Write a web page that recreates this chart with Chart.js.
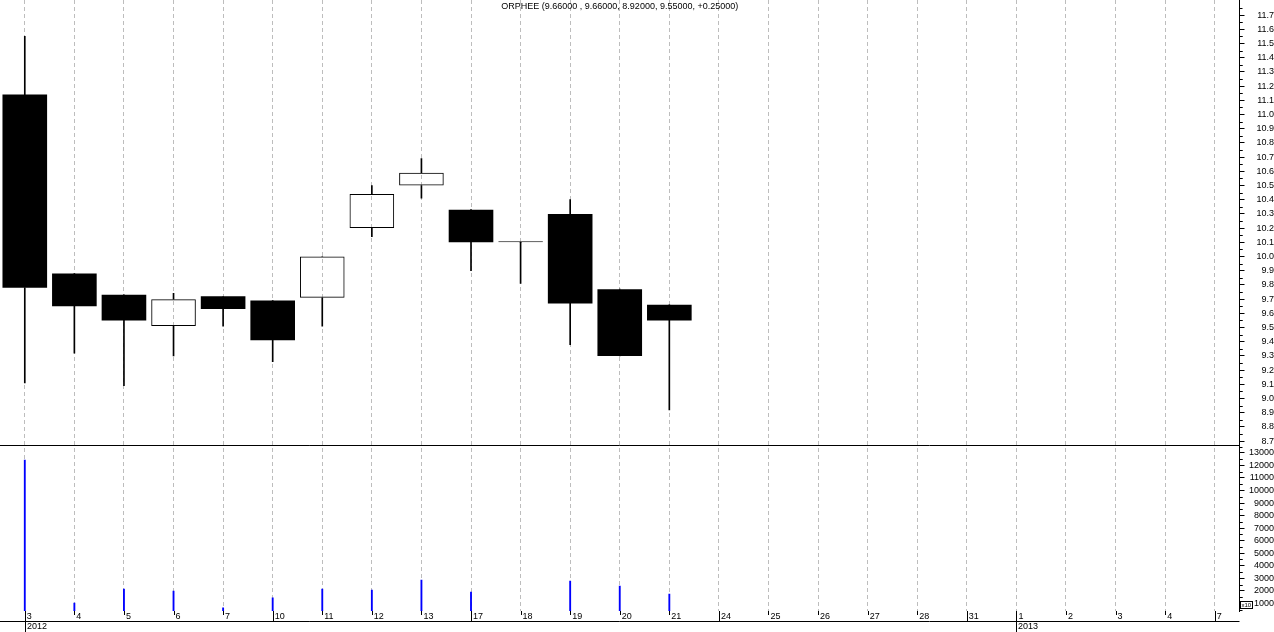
<!DOCTYPE html>
<html><head><meta charset="utf-8">
<script src="https://cdn.jsdelivr.net/npm/chart.js@4/dist/chart.umd.min.js"></script>
<style>html,body{margin:0;padding:0;background:#fff;overflow:hidden}canvas{display:block}</style>
</head><body>
<canvas id="c" width="1274" height="632"></canvas>
<script>
// ---- data ----
const ticker = 'ORPHEE';
const dates = ['2012-12-03','2012-12-04','2012-12-05','2012-12-06','2012-12-07','2012-12-10','2012-12-11','2012-12-12','2012-12-13','2012-12-17','2012-12-18','2012-12-19','2012-12-20','2012-12-21','2012-12-24','2012-12-25','2012-12-26','2012-12-27','2012-12-28','2012-12-31','2013-01-01','2013-01-02','2013-01-03','2013-01-04','2013-01-07'];
const dayLabels = ['3','4','5','6','7','10','11','12','13','17','18','19','20','21','24','25','26','27','28','31','1','2','3','4','7'];
const openP  = [11.14, 9.88, 9.73, 9.51, 9.72, 9.69, 9.71, 10.20, 10.50, 10.33, 10.10, 10.30, 9.77, 9.66];
const highP  = [11.55, 9.88, 9.73, 9.74, 9.72, 9.69, 10.00, 10.50, 10.69, 10.33, 10.10, 10.40, 9.77, 9.66];
const lowP   = [9.11, 9.32, 9.09, 9.30, 9.51, 9.26, 9.51, 10.14, 10.41, 9.90, 9.81, 9.38, 9.30, 8.92];
const closeP = [9.78, 9.65, 9.55, 9.70, 9.63, 9.41, 10.00, 10.44, 10.59, 10.10, 10.10, 9.67, 9.30, 9.55];
const volume = [12430, 1020, 2140, 1980, 650, 1440, 2140, 2060, 2860, 1900, 0, 2780, 2380, 1740];
const priceTicks = [8.7,8.8,8.9,9.0,9.1,9.2,9.3,9.4,9.5,9.6,9.7,9.8,9.9,10.0,10.1,10.2,10.3,10.4,10.5,10.6,10.7,10.8,10.9,11.0,11.1,11.2,11.3,11.4,11.5,11.6,11.7];
const volumeTicks = [1000,2000,3000,4000,5000,6000,7000,8000,9000,10000,11000,12000,13000];

// ---- derived tables for the library ----
const n = dates.length;
const idx = [...Array(n).keys()];
const has = i => i < closeP.length;
const bodies = idx.map(i => has(i) ? [openP[i], closeP[i]] : null);
const upperWicks = idx.map(i => has(i) ? [Math.max(openP[i], closeP[i]), highP[i]] : null);
const lowerWicks = idx.map(i => has(i) ? [lowP[i], Math.min(openP[i], closeP[i])] : null);
const vols = idx.map(i => has(i) && volume[i] > 0 ? volume[i] : null);
const isDown = idx.map(i => has(i) && closeP[i] < openP[i]);

Chart.defaults.font.family = "'Liberation Sans', Arial, sans-serif";
Chart.defaults.font.size = 9;
Chart.defaults.color = '#000';

const last = closeP.length - 1;
const f5 = v => v.toFixed(5);
const chg = closeP[last] - closeP[last - 1];
const titleText = ticker + ' (' + f5(openP[last]) + ' , ' + f5(highP[last]) + ', ' + f5(lowP[last]) + ', ' + f5(closeP[last]) + ', ' + (chg >= 0 ? '+' : '') + f5(chg) + ')';

const AXIS_W = 34.5;

const decor = {
  id: 'decor',
  afterDraw(chart) {
    const ctx = chart.ctx, ca = chart.chartArea;
    const xs = chart.scales.x, ys = chart.scales.y, y2 = chart.scales.y2;
    ctx.save();
    ctx.strokeStyle = '#000';
    ctx.lineWidth = 1;
    // panel separator
    const sep = Math.round(ys.bottom) + 0.5;
    ctx.beginPath(); ctx.moveTo(0, sep); ctx.lineTo(ca.right, sep); ctx.stroke();
    // date axis line
    const axY = Math.round(ca.bottom) + 10.5;
    ctx.beginPath(); ctx.moveTo(0, axY); ctx.lineTo(ca.right, axY); ctx.stroke();
    // date tick marks and year labels
    ctx.font = "9px 'Liberation Sans', Arial, sans-serif";
    ctx.fillStyle = '#000';
    ctx.textBaseline = 'top';
    ctx.textAlign = 'left';
    for (let i = 0; i < n; i++) {
      const px = Math.round(xs.getPixelForValue(i)) + 0.5;
      const d = new Date(dates[i] + 'T00:00:00Z');
      const monday = d.getUTCDay() === 1;
      const yearStart = i === 0 || dates[i].slice(0, 4) !== dates[i - 1].slice(0, 4);
      let end = ca.bottom + 4;
      if (monday || yearStart) end = ca.bottom + 10;
      if (yearStart) end = chart.height;
      ctx.beginPath(); ctx.moveTo(px, ca.bottom); ctx.lineTo(px, end); ctx.stroke();
      if (yearStart) ctx.fillText(dates[i].slice(0, 4), px + 1.5, ca.bottom + 11.5);
    }
    // minor ticks on right axes
    const minor = (scale, vals, step) => {
      vals.forEach(v => {
        [v - step, v + step].forEach(m => {
          if (m >= scale.min && m <= scale.max) {
            const py = Math.round(scale.getPixelForValue(m)) + 0.5;
            ctx.beginPath(); ctx.moveTo(scale.left, py); ctx.lineTo(scale.left + 3, py); ctx.stroke();
          }
        });
      });
    };
    minor(ys, priceTicks, 0.05);
    minor(y2, volumeTicks, 500);
    // multiplier box
    const bx = Math.round(y2.left) + 0.5, by = Math.round(y2.getPixelForValue(1000)) - 1.5;
    ctx.fillStyle = '#fff';
    ctx.fillRect(bx, by, 12, 7);
    ctx.fillStyle = '#000';
    ctx.strokeRect(bx, by, 12, 7);
    ctx.font = "6px 'Liberation Sans', Arial, sans-serif";
    ctx.textBaseline = 'middle';
    ctx.fillText('x10', bx + 1, by + 3.8);
    // title
    ctx.font = "9px 'Liberation Sans', Arial, sans-serif";
    ctx.textAlign = 'center';
    ctx.textBaseline = 'middle';
    ctx.fillText(titleText, (ca.left + ca.right) / 2, 7);
    ctx.restore();
  }
};

const noPad = s => { s.paddingTop = 0; s.paddingBottom = 0; s.paddingLeft = 0; s.paddingRight = 0; };

new Chart(document.getElementById('c'), {
  type: 'bar',
  data: {
    labels: dayLabels,
    datasets: [
      {
        label: 'body', data: bodies, yAxisID: 'y', grouped: false, order: 0,
        backgroundColor: isDown.map(d => d ? '#000' : 'rgba(0,0,0,0)'),
        borderColor: '#000', borderWidth: isDown.map(d => d ? 0 : 1), borderSkipped: false,
        barPercentage: 0.9, categoryPercentage: 1, minBarLength: 1
      },
      { label: 'upper', data: upperWicks, yAxisID: 'y', grouped: false, order: 1,
        backgroundColor: '#000', borderWidth: 0, barThickness: 1 },
      { label: 'lower', data: lowerWicks, yAxisID: 'y', grouped: false, order: 1,
        backgroundColor: '#000', borderWidth: 0, barThickness: 1 },
      { label: 'volume', data: vols, yAxisID: 'y2', grouped: false, order: 2,
        backgroundColor: '#0000ff', borderWidth: 0, barThickness: 1.2 }
    ]
  },
  options: {
    responsive: false, animation: false,
    layout: { padding: 0 },
    plugins: { legend: { display: false }, tooltip: { enabled: false }, title: { display: false } },
    scales: {
      x: {
        type: 'category', offset: true, position: 'bottom',
        grid: { offset: false, color: '#bdbdbd', lineWidth: 1, drawTicks: false },
        border: { display: false, dash: [4, 3] },
        ticks: { autoSkip: false, maxRotation: 0, minRotation: 0, align: 'start', labelOffset: 2, padding: 0, color: '#000' },
        afterFit: s => { s.height = 21; noPad(s); }
      },
      y: {
        type: 'linear', position: 'right', stack: 'panels', stackWeight: 445,
        min: 8.673, max: 11.806,
        afterBuildTicks: s => { s.ticks = priceTicks.map(v => ({ value: v })); },
        grid: { drawOnChartArea: false, drawTicks: true, tickLength: 5, tickColor: '#000' },
        border: { display: true, color: '#000' },
        ticks: { autoSkip: false, crossAlign: 'far', padding: 7, color: '#000', callback: v => Number(v).toFixed(1) },
        afterFit: s => { s.width = AXIS_W; noPad(s); }
      },
      y2: {
        type: 'linear', position: 'right', stack: 'panels', stackWeight: 166,
        min: 390, max: 13630,
        afterBuildTicks: s => { s.ticks = volumeTicks.map(v => ({ value: v })); },
        grid: { drawOnChartArea: false, drawTicks: true, tickLength: 5, tickColor: '#000' },
        border: { display: true, color: '#000' },
        ticks: { autoSkip: false, crossAlign: 'far', padding: 0, color: '#000', callback: v => String(v) },
        afterFit: s => { s.width = AXIS_W; noPad(s); }
      }
    }
  },
  plugins: [decor]
});
</script>
</body></html>
